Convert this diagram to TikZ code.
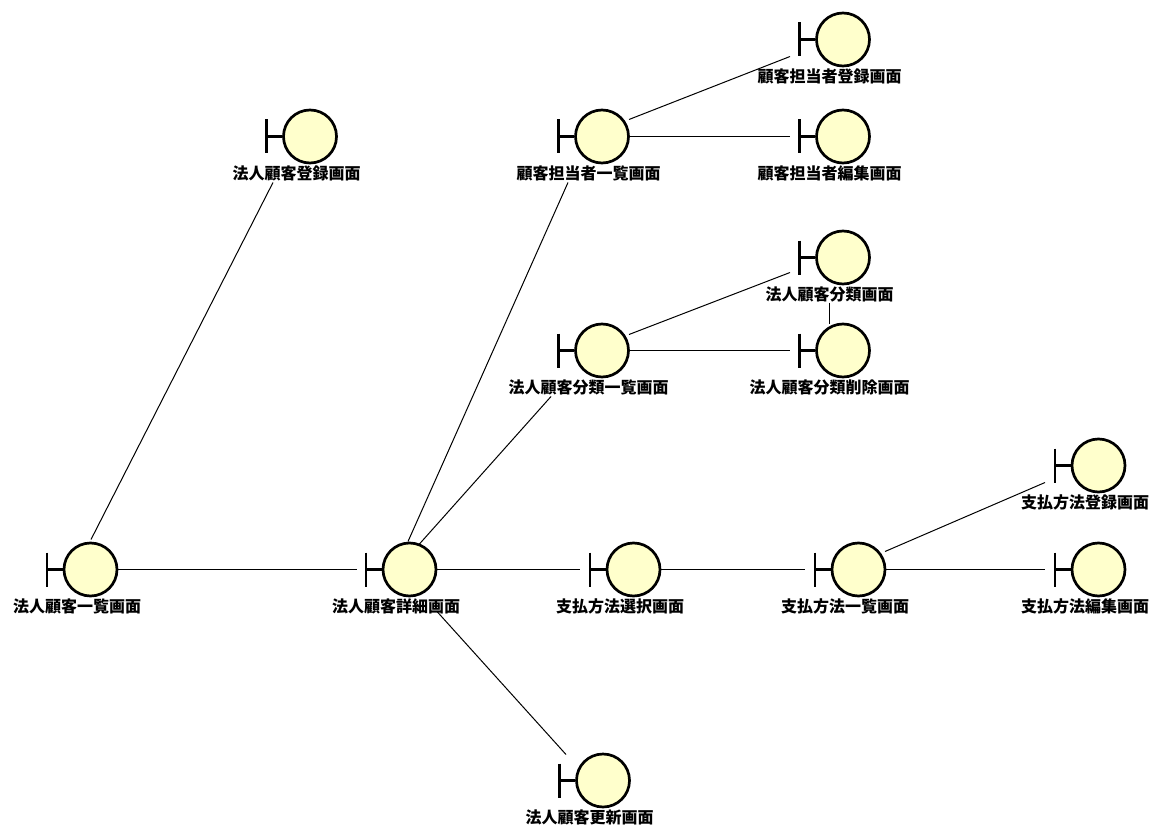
\documentclass[tikz,border=0pt]{standalone}
\usepackage{fontspec}
\newfontfamily\jpfont{Noto Sans CJK JP}
\definecolor{bodyyellow}{HTML}{FFFFCC}
\begin{document}
\begin{tikzpicture}[x=1pt,y=-1pt,
  boundary node/.style={circle,fill=bodyyellow,draw=black,line width=2.7pt,
  inner sep=0pt,minimum size=53pt},
  boundary bar/.style={line width=2.7pt,black},
  name node/.style={font=\jpfont\bfseries\fontsize{16}{18}\selectfont,inner sep=0pt,black},
  link/.style={line width=1pt,black}]
  \useasboundingbox (0,0) rectangle (1162,840);

  \foreach \n/\x/\y/\t in {
    corpList/90.5/569.5/法人顧客一覧画面,
    corpAdd/310/136.5/法人顧客登録画面,
    corpDetail/409.5/569.5/法人顧客詳細画面,
    corpEdit/603/780.5/法人顧客更新画面,
    staffList/602/136.5/顧客担当者一覧画面,
    staffAdd/843/39.5/顧客担当者登録画面,
    staffEdit/843/136.5/顧客担当者編集画面,
    classList/602/350.5/法人顧客分類一覧画面,
    classView/843/257.5/法人顧客分類画面,
    classDel/843/350.5/法人顧客分類削除画面,
    payPick/633.5/569.5/支払方法選択画面,
    payList/858.5/569.5/支払方法一覧画面,
    payAdd/1098.5/465.5/支払方法登録画面,
    payEdit/1098.5/569.5/支払方法編集画面}
  {
    \node[boundary node] (\n) at (\x,\y) {};
    \draw[boundary bar] ([xshift=-43.5]\n.center) ++(0,-17) -- ++(0,34);
    \draw[boundary bar] ([xshift=-43.5]\n.center) -- (\n.west);
    \node[name node] (\n-name) at ([shift={(-13.5,36.5)}]\n.center) {\t};
  }

  % top left branch and the row through the middle
  \draw[link] ([shift={(0.5,-30)}]corpList.center) -- ([shift={(-37,46)}]corpAdd.center);
  \draw[link] (corpList.east) -- ([xshift=-52.5]corpDetail.center);
  \draw[link] ([shift={(-1.5,-28)}]corpDetail.center) -- ([shift={(-34,46)}]staffList.center);
  \draw[link] ([shift={(9.5,-25)}]corpDetail.center) -- ([shift={(-51,46)}]classList.center);
  \draw[link] (corpDetail.east) -- ([xshift=-53.5]payPick.center);
  \draw[link] ([shift={(27.5,42)}]corpDetail.center) -- ([shift={(-37,-26)}]corpEdit.center);
  \draw[link] (payPick.east) -- ([xshift=-53.5]payList.center);
  \draw[link] ([shift={(26.5,-18)}]payList.center) -- ([shift={(-53.5,17)}]payAdd.center);
  \draw[link] (payList.east) -- ([xshift=-53.5]payEdit.center);
  \draw[link] ([shift={(27,-17)}]staffList.center) -- ([shift={(-53,17)}]staffAdd.center);
  \draw[link] (staffList.east) -- ([xshift=-53]staffEdit.center);
  \draw[link] ([shift={(27,-16)}]classList.center) -- ([shift={(-53,15)}]classView.center);
  \draw[link] (classList.east) -- ([xshift=-53]classDel.center);
  \draw[link] ([shift={(-14,45)}]classView.center) -- ([shift={(-14,-27)}]classDel.center);
\end{tikzpicture}
\end{document}
